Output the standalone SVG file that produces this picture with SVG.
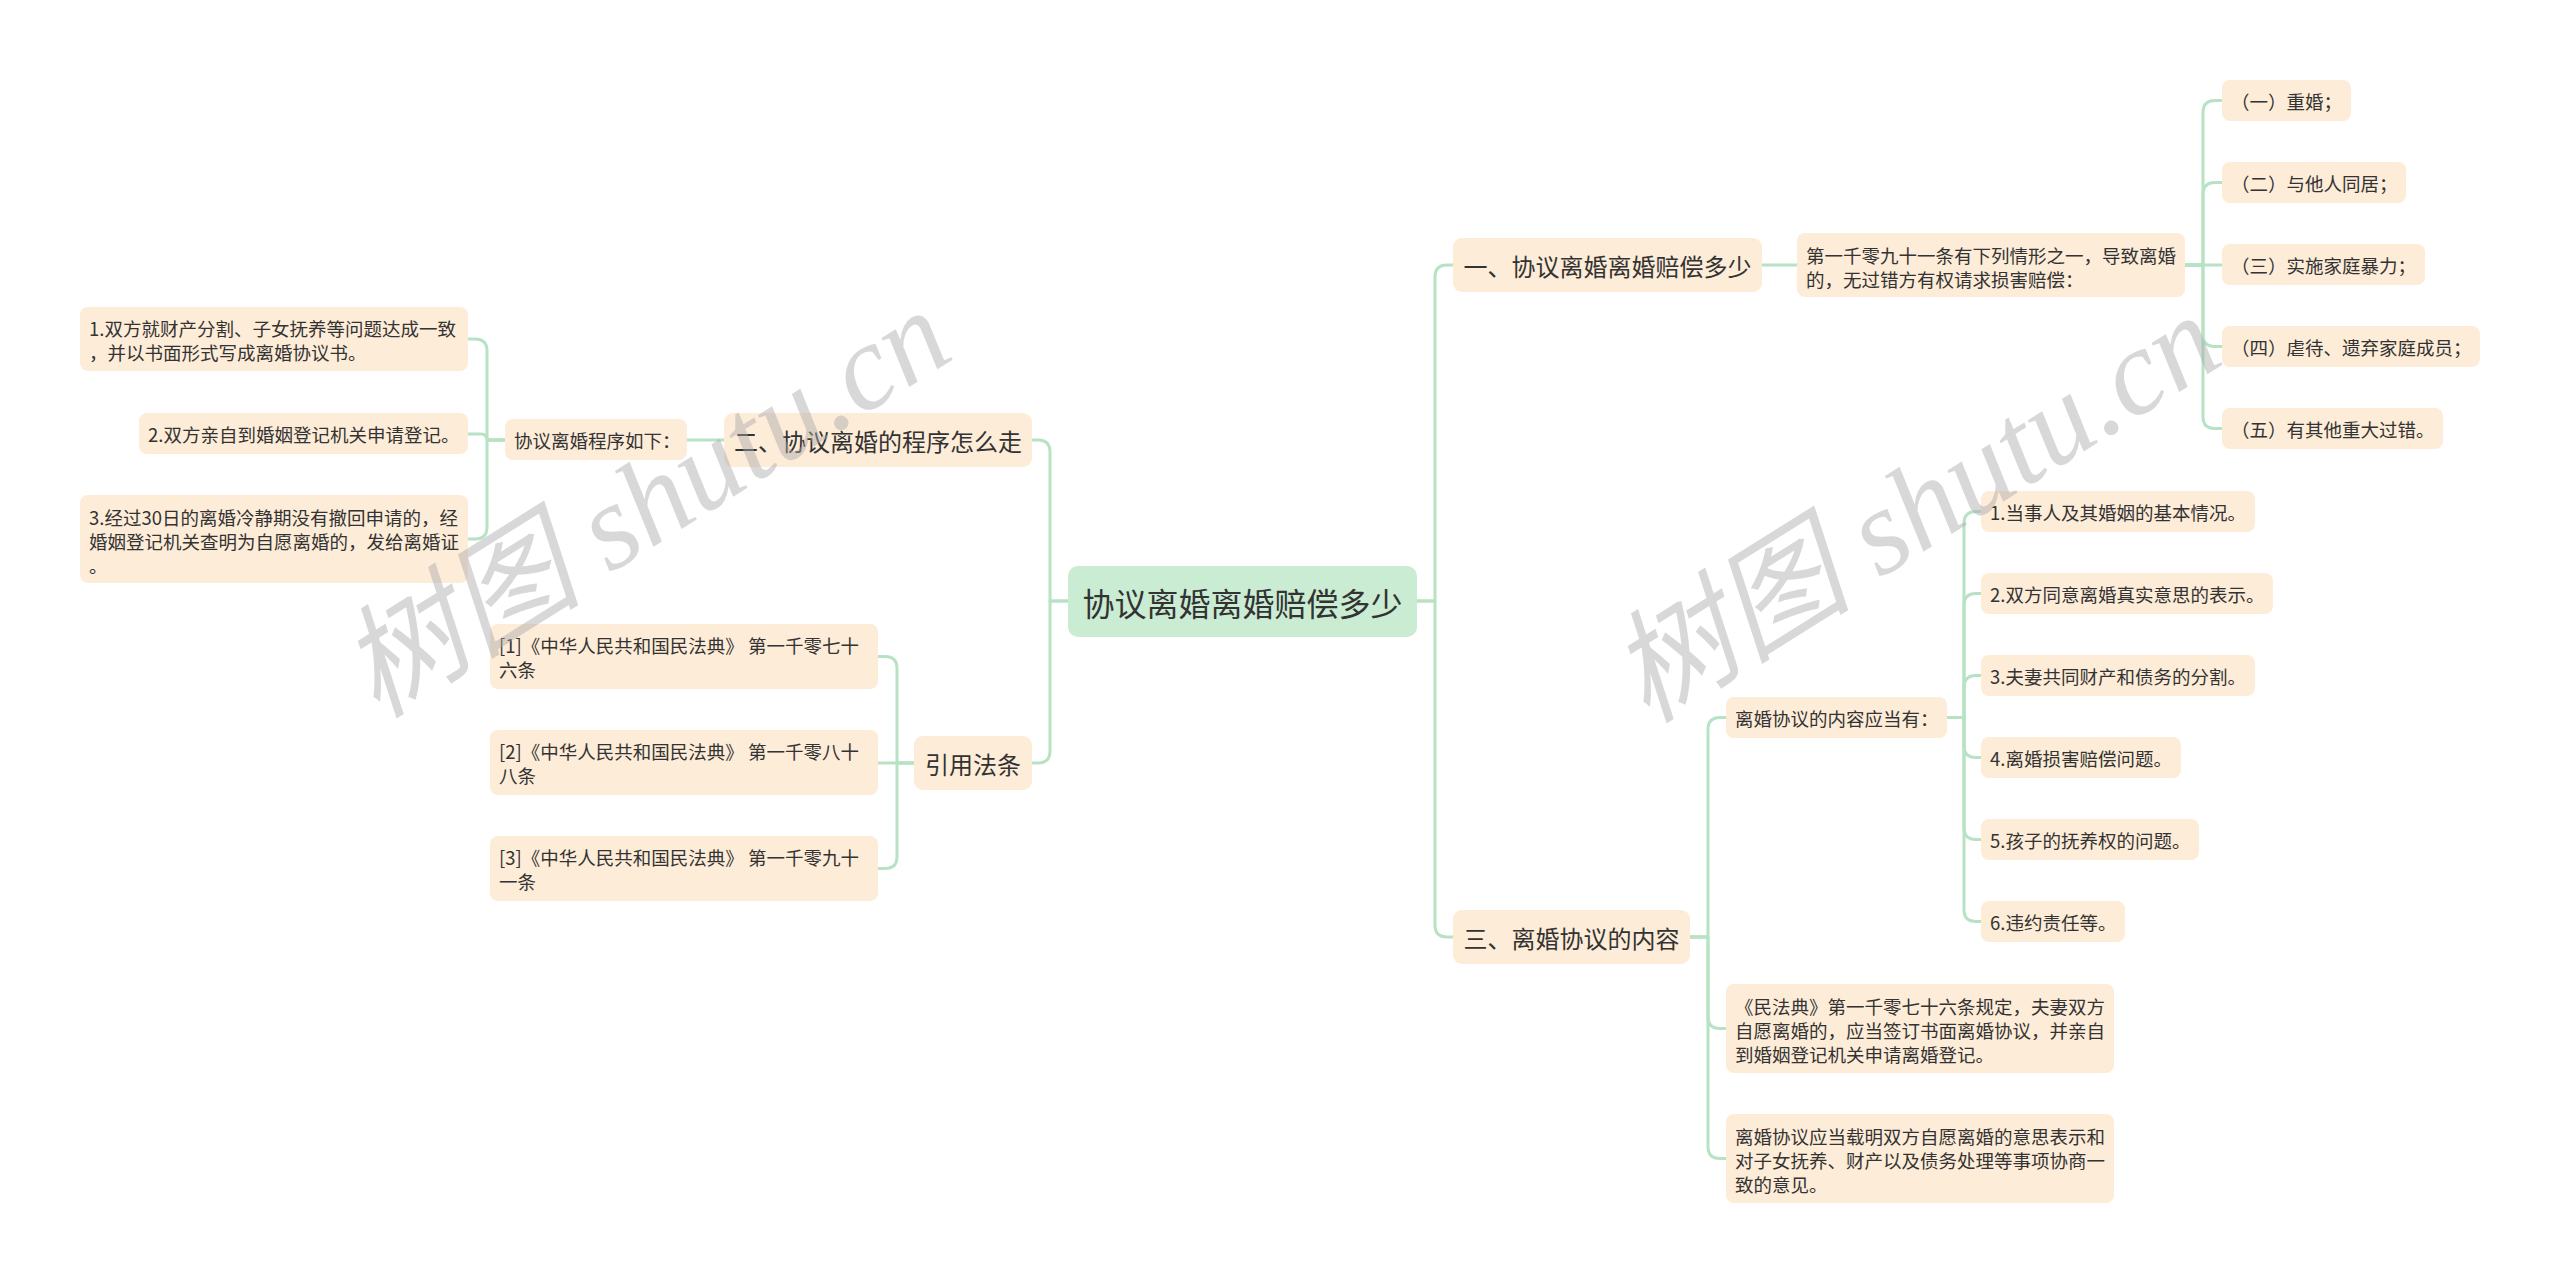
<svg xmlns="http://www.w3.org/2000/svg" width="2560" height="1283" viewBox="0 0 2560 1283">
<defs>
<style>
.bg{fill:#ffffff}
.root{fill:#c9ecd2}
.nd{fill:#fdecd7}
.t{font-family:"Noto Sans CJK SC","Noto Sans",sans-serif;fill:#333333;dominant-baseline:central}
.t34{font-size:32px}
.t24{font-size:24px}
.t18{font-size:18.5px}
.c{text-anchor:middle}
.ln{fill:none;stroke:#b7e2c4;stroke-width:3;stroke-linecap:round;stroke-linejoin:round}
.wm{font-family:"Liberation Serif","Noto Sans CJK SC",serif;font-style:italic;font-size:122px;fill:#a8a8a8;fill-opacity:0.45;text-anchor:middle;dominant-baseline:central}
</style>
</defs>
<rect class="bg" x="0" y="0" width="2560" height="1283"/>

<g id="connectors">
<path class="ln" d="M1417 601 H1435 V277 Q1435 265 1447 265 H1453"/>
<path class="ln" d="M1417 601 H1435 V925 Q1435 937 1447 937 H1453"/>
<path class="ln" d="M1068 601 H1050 V452 Q1050 440 1038 440 H1032"/>
<path class="ln" d="M1068 601 H1050 V751 Q1050 763 1038 763 H1032"/>
<path class="ln" d="M724 440 H687"/>
<path class="ln" d="M505 440 H487 V351 Q487 339 475 339 H468"/>
<path class="ln" d="M505 440 H487 Q487 434 481 434 H468"/>
<path class="ln" d="M505 440 H487 V527 Q487 539 475 539 H468"/>
<path class="ln" d="M914 763 H897 V668.5 Q897 656.5 885 656.5 H878"/>
<path class="ln" d="M914 763 H878"/>
<path class="ln" d="M914 763 H897 V856.5 Q897 868.5 885 868.5 H878"/>
<path class="ln" d="M1762 265 H1797"/>
<path class="ln" d="M2185 265 H2203 V112.5 Q2203 100.5 2215 100.5 H2222"/>
<path class="ln" d="M2185 265 H2203 V194.5 Q2203 182.5 2215 182.5 H2222"/>
<path class="ln" d="M2185 265 H2222"/>
<path class="ln" d="M2185 265 H2203 V334.5 Q2203 346.5 2215 346.5 H2222"/>
<path class="ln" d="M2185 265 H2203 V416.5 Q2203 428.5 2215 428.5 H2222"/>
<path class="ln" d="M1690 937 H1708 V729.5 Q1708 717.5 1720 717.5 H1726"/>
<path class="ln" d="M1690 937 H1708 V1016.5 Q1708 1028.5 1720 1028.5 H1726"/>
<path class="ln" d="M1690 937 H1708 V1146.5 Q1708 1158.5 1720 1158.5 H1726"/>
<path class="ln" d="M1947 717.5 H1964 V523.5 Q1964 511.5 1976 511.5 H1981"/>
<path class="ln" d="M1947 717.5 H1964 V605.5 Q1964 593.5 1976 593.5 H1981"/>
<path class="ln" d="M1947 717.5 H1964 V687.5 Q1964 675.5 1976 675.5 H1981"/>
<path class="ln" d="M1947 717.5 H1964 V745.5 Q1964 757.5 1976 757.5 H1981"/>
<path class="ln" d="M1947 717.5 H1964 V827.5 Q1964 839.5 1976 839.5 H1981"/>
<path class="ln" d="M1947 717.5 H1964 V909.5 Q1964 921.5 1976 921.5 H1981"/>
</g>

<g id="root">
<rect class="root" x="1068" y="566" width="349" height="71" rx="10"/>
<text class="t t34 c" x="1242.5" y="601.5">协议离婚离婚赔偿多少</text>
</g>

<g id="b1">
<rect class="nd" x="1453" y="238" width="309" height="54" rx="9"/>
<text class="t t24 c" x="1607.5" y="265">一、协议离婚离婚赔偿多少</text>
</g>
<g id="b1s">
<rect class="nd" x="1797" y="233" width="388" height="64" rx="8"/>
<text class="t t18" x="1806"><tspan x="1806" y="255">第一千零九十一条有下列情形之一，导致离婚</tspan><tspan x="1806" y="279">的，无过错方有权请求损害赔偿：</tspan></text>
</g>
<g id="b1l1"><rect class="nd" x="2222" y="80" width="129" height="41" rx="8"/><text class="t t18" x="2231" y="100.5">（一）重婚；</text></g>
<g id="b1l2"><rect class="nd" x="2222" y="162" width="184" height="41" rx="8"/><text class="t t18" x="2231" y="182.5">（二）与他人同居；</text></g>
<g id="b1l3"><rect class="nd" x="2222" y="244" width="203" height="41" rx="8"/><text class="t t18" x="2231" y="264.5">（三）实施家庭暴力；</text></g>
<g id="b1l4"><rect class="nd" x="2222" y="326" width="258" height="41" rx="8"/><text class="t t18" x="2231" y="346.5">（四）虐待、遗弃家庭成员；</text></g>
<g id="b1l5"><rect class="nd" x="2222" y="408" width="221" height="41" rx="8"/><text class="t t18" x="2231" y="428.5">（五）有其他重大过错。</text></g>

<g id="b3">
<rect class="nd" x="1453" y="910" width="237" height="54" rx="9"/>
<text class="t t24 c" x="1571.5" y="937">三、离婚协议的内容</text>
</g>
<g id="b3s1"><rect class="nd" x="1726" y="697" width="221" height="41" rx="8"/><text class="t t18" x="1735" y="717.5">离婚协议的内容应当有：</text></g>
<g id="b3l1"><rect class="nd" x="1981" y="491" width="274" height="41" rx="8"/><text class="t t18" x="1990" y="511.5">1.当事人及其婚姻的基本情况。</text></g>
<g id="b3l2"><rect class="nd" x="1981" y="573" width="292" height="41" rx="8"/><text class="t t18" x="1990" y="593.5">2.双方同意离婚真实意思的表示。</text></g>
<g id="b3l3"><rect class="nd" x="1981" y="655" width="274" height="41" rx="8"/><text class="t t18" x="1990" y="675.5">3.夫妻共同财产和债务的分割。</text></g>
<g id="b3l4"><rect class="nd" x="1981" y="737" width="200" height="41" rx="8"/><text class="t t18" x="1990" y="757.5">4.离婚损害赔偿问题。</text></g>
<g id="b3l5"><rect class="nd" x="1981" y="819" width="218" height="41" rx="8"/><text class="t t18" x="1990" y="839.5">5.孩子的抚养权的问题。</text></g>
<g id="b3l6"><rect class="nd" x="1981" y="901" width="144" height="41" rx="8"/><text class="t t18" x="1990" y="921.5">6.违约责任等。</text></g>
<g id="b3s2">
<rect class="nd" x="1726" y="984" width="388" height="89" rx="8"/>
<text class="t t18" x="1735"><tspan x="1735" y="1006">《民法典》第一千零七十六条规定，夫妻双方</tspan><tspan x="1735" y="1030">自愿离婚的，应当签订书面离婚协议，并亲自</tspan><tspan x="1735" y="1054">到婚姻登记机关申请离婚登记。</tspan></text>
</g>
<g id="b3s3">
<rect class="nd" x="1726" y="1114" width="388" height="89" rx="8"/>
<text class="t t18" x="1735"><tspan x="1735" y="1136">离婚协议应当载明双方自愿离婚的意思表示和</tspan><tspan x="1735" y="1160">对子女抚养、财产以及债务处理等事项协商一</tspan><tspan x="1735" y="1184">致的意见。</tspan></text>
</g>

<g id="b2">
<rect class="nd" x="724" y="413" width="308" height="54" rx="9"/>
<text class="t t24 c" x="878" y="440">二、协议离婚的程序怎么走</text>
</g>
<g id="b2s"><rect class="nd" x="505" y="419" width="182" height="41" rx="8"/><text class="t t18" x="514" y="439.5">协议离婚程序如下：</text></g>
<g id="b2l1">
<rect class="nd" x="80" y="307" width="388" height="64" rx="8"/>
<text class="t t18" x="89"><tspan x="89" y="328">1.双方就财产分割、子女抚养等问题达成一致</tspan><tspan x="89" y="352">，并以书面形式写成离婚协议书。</tspan></text>
</g>
<g id="b2l2"><rect class="nd" x="139" y="413" width="329" height="41" rx="8"/><text class="t t18" x="148" y="433.5">2.双方亲自到婚姻登记机关申请登记。</text></g>
<g id="b2l3">
<rect class="nd" x="80" y="495" width="388" height="88" rx="8"/>
<text class="t t18" x="89"><tspan x="89" y="517">3.经过30日的离婚冷静期没有撤回申请的，经</tspan><tspan x="89" y="541">婚姻登记机关查明为自愿离婚的，发给离婚证</tspan><tspan x="89" y="565">。</tspan></text>
</g>

<g id="b4">
<rect class="nd" x="914" y="736" width="118" height="54" rx="9"/>
<text class="t t24 c" x="973" y="763">引用法条</text>
</g>
<g id="b4l1">
<rect class="nd" x="490" y="624" width="388" height="65" rx="8"/>
<text class="t t18" x="499"><tspan x="499" y="645">[1]《中华人民共和国民法典》 第一千零七十</tspan><tspan x="499" y="669">六条</tspan></text>
</g>
<g id="b4l2">
<rect class="nd" x="490" y="730" width="388" height="65" rx="8"/>
<text class="t t18" x="499"><tspan x="499" y="751">[2]《中华人民共和国民法典》 第一千零八十</tspan><tspan x="499" y="775">八条</tspan></text>
</g>
<g id="b4l3">
<rect class="nd" x="490" y="836" width="388" height="65" rx="8"/>
<text class="t t18" x="499"><tspan x="499" y="857">[3]《中华人民共和国民法典》 第一千零九十</tspan><tspan x="499" y="881">一条</tspan></text>
</g>

<g id="watermark">
<text class="wm" x="645" y="503" transform="rotate(-32 645 503)">树图 shutu.cn</text>
<text class="wm" x="1915" y="508" transform="rotate(-32 1915 508)">树图 shutu.cn</text>
</g>
</svg>
